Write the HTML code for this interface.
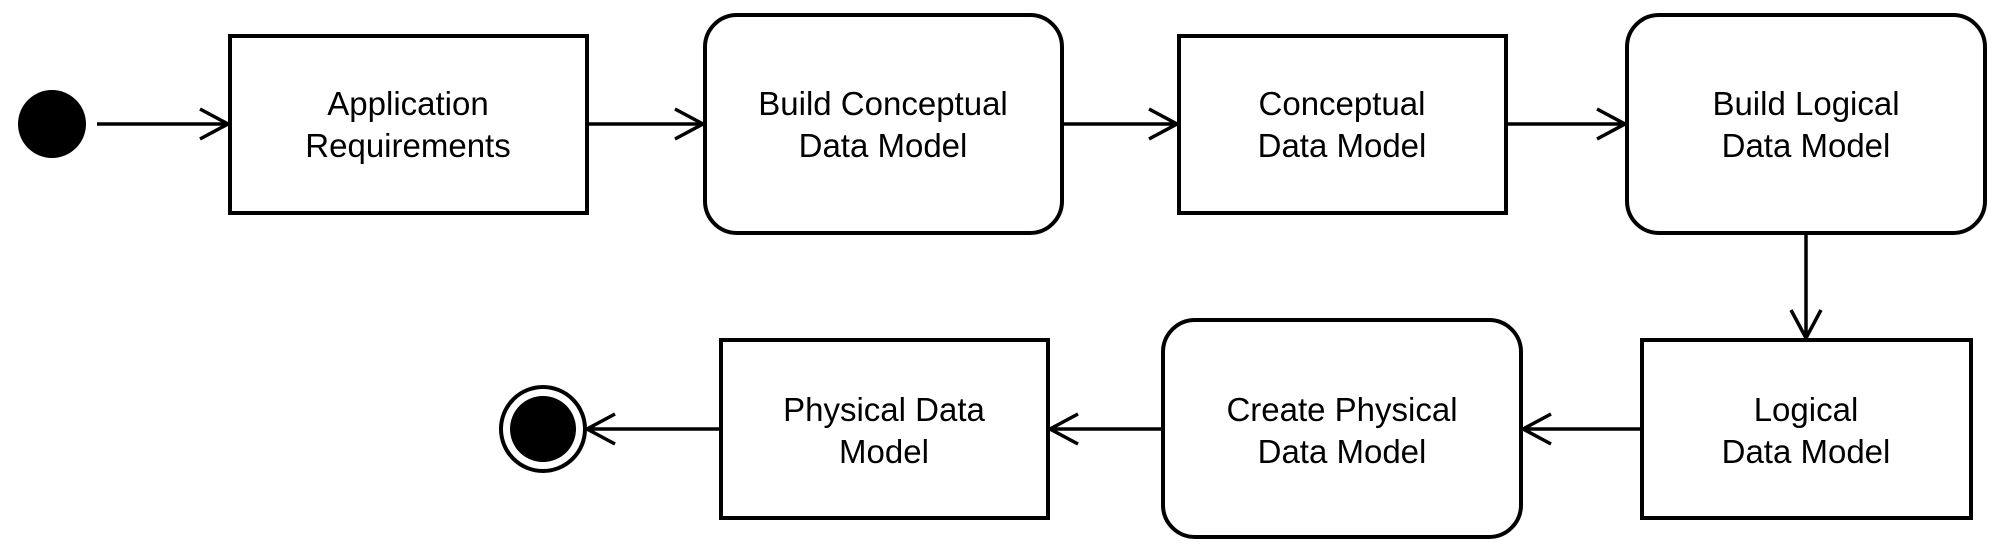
<!DOCTYPE html>
<html><head><meta charset="utf-8"><style>
html,body{margin:0;padding:0;background:#fff;}
svg{display:block;}
text{font-family:"Liberation Sans",sans-serif;font-size:33px;fill:#000;text-anchor:middle;}
</style></head><body>
<svg width="1999" height="558" viewBox="0 0 1999 558" xmlns="http://www.w3.org/2000/svg">
<g fill="#fff" stroke="#000" stroke-width="4">
<rect x="230" y="36" width="357" height="177"/>
<rect x="705" y="15" width="357" height="218" rx="32"/>
<rect x="1179" y="36" width="327" height="177"/>
<rect x="1627" y="15" width="358" height="218" rx="32"/>
<rect x="1642" y="340" width="329" height="178"/>
<rect x="1163" y="320" width="358" height="217" rx="32"/>
<rect x="721" y="340" width="327" height="178"/>
</g>
<circle cx="52" cy="124" r="34" fill="#000"/>
<circle cx="543" cy="429" r="42" fill="#fff" stroke="#000" stroke-width="4"/>
<circle cx="543" cy="429" r="33" fill="#000"/>
<g fill="none" stroke="#000" stroke-width="3.5">
<path d="M97 124H228M200 109L228 124L200 139"/>
<path d="M588 124H703M675 109L703 124L675 139"/>
<path d="M1063 124H1177M1149 109L1177 124L1149 139"/>
<path d="M1507 124H1625M1597 109L1625 124L1597 139"/>
<path d="M1806 233V338M1791 310L1806 338L1821 310"/>
<path d="M1641 429H1523M1551 414L1523 429L1551 444"/>
<path d="M1162 429H1050M1078 414L1050 429L1078 444"/>
<path d="M720 429H587M615 414L587 429L615 444"/>
</g>
<text x="408" y="115">Application</text><text x="408" y="157">Requirements</text>
<text x="883" y="115">Build Conceptual</text><text x="883" y="157">Data Model</text>
<text x="1342" y="115">Conceptual</text><text x="1342" y="157">Data Model</text>
<text x="1806" y="115">Build Logical</text><text x="1806" y="157">Data Model</text>
<text x="1806" y="421">Logical</text><text x="1806" y="463">Data Model</text>
<text x="1342" y="421">Create Physical</text><text x="1342" y="463">Data Model</text>
<text x="884" y="421">Physical Data</text><text x="884" y="463">Model</text>
</svg>
</body></html>
